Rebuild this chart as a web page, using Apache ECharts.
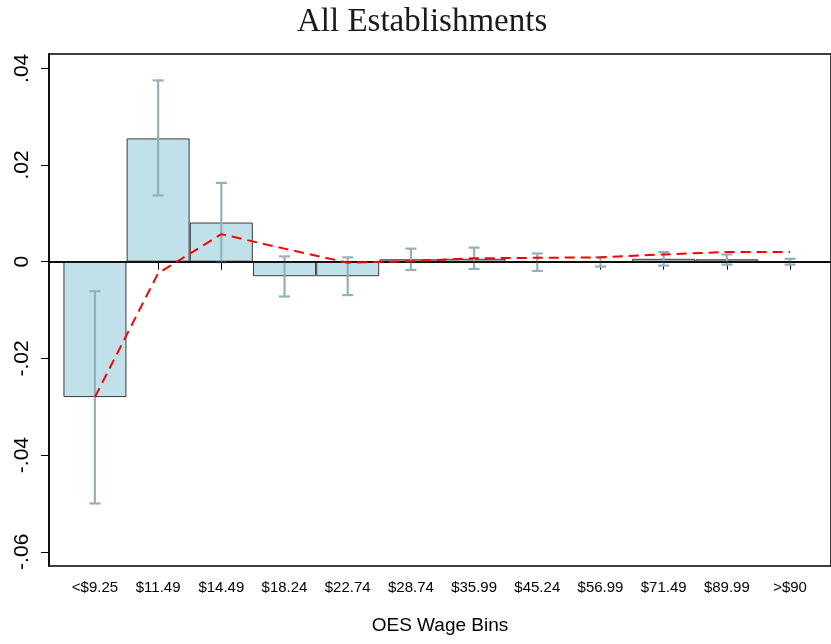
<!DOCTYPE html>
<html>
<head>
<meta charset="utf-8">
<script src="https://cdn.jsdelivr.net/npm/echarts@6/dist/echarts.min.js"></script>
<style>
  html, body { margin: 0; padding: 0; background: #fff; }
  #main { width: 831px; height: 644px; }
</style>
</head>
<body>
<div id="main"></div>
<script>
// wage bins on the x axis
var categories = ['<$9.25', '$11.49', '$14.49', '$18.24', '$22.74', '$28.74',
  '$35.99', '$45.24', '$56.99', '$71.49', '$89.99', '>$90']
// point estimates (bars)
var estimates = [-0.0280, 0.0255, 0.0081, -0.0030, -0.0030, 0.0005,
  0.0006, -0.0001, 0.0000, 0.0006, 0.0005, 0.0000]
// confidence interval bounds
var ciLow = [-0.0500, 0.0137, -0.0001, -0.0072, -0.0069, -0.0017,
  -0.0015, -0.0019, -0.0010, -0.0008, -0.0006, -0.0006]
var ciHigh = [-0.0061, 0.0375, 0.0163, 0.0011, 0.0009, 0.0027,
  0.0029, 0.0017, 0.0009, 0.0020, 0.0015, 0.0006]
// red dashed line
var predicted = [-0.0280, -0.0024, 0.0057, 0.0027, -0.0002, 0.0001,
  0.0007, 0.0008, 0.0009, 0.0015, 0.0020, 0.0020]
var yTicks = [-0.06, -0.04, -0.02, 0, 0.02, 0.04]

var positions = categories.map(function (c, i) { return i + 1 })

var chart = echarts.init(document.getElementById('main'))

function fmtY (v) {
  if (Math.abs(v) < 1e-9) return '0'
  return v.toFixed(2).replace('0.', '.')
}

var option = {
  animation: false,
  title: {
    text: 'All Establishments',
    left: 292,
    top: 1,
    textStyle: {
      fontFamily: 'Liberation Serif',
      fontWeight: 'normal',
      fontSize: 33,
      color: '#1a1a1a'
    }
  },
  grid: {
    left: 49,
    right: -1,
    top: 54,
    bottom: 78,
    show: true,
    borderColor: '#000',
    borderWidth: 1.5,
    backgroundColor: '#fff'
  },
  xAxis: {
    type: 'value',
    min: 0.273,
    max: 12.648,
    name: 'OES Wage Bins',
    nameLocation: 'middle',
    nameGap: 50,
    nameTextStyle: {
      fontFamily: 'Liberation Sans',
      fontSize: 19,
      color: '#000'
    },
    splitLine: { show: false },
    axisLine: { show: true, lineStyle: { color: '#000', width: 1.5 } },
    axisTick: {
      show: true,
      customValues: positions,
      length: 8,
      lineStyle: { color: '#000', width: 1 }
    },
    axisLabel: {
      customValues: positions,
      margin: 14,
      fontFamily: 'Liberation Sans',
      fontSize: 15,
      color: '#000',
      formatter: function (v) { return categories[Math.round(v) - 1] }
    }
  },
  yAxis: {
    type: 'value',
    min: -0.06294,
    max: 0.04296,
    splitLine: { show: false },
    axisLine: { show: true, lineStyle: { color: '#000', width: 1.5 } },
    axisTick: {
      show: true,
      customValues: yTicks,
      length: 8,
      lineStyle: { color: '#000', width: 1 }
    },
    axisLabel: {
      customValues: yTicks,
      rotate: 90,
      margin: 16,
      fontFamily: 'Liberation Sans',
      fontSize: 21,
      color: '#000',
      formatter: fmtY
    }
  },
  series: [
    {
      name: 'estimate',
      type: 'bar',
      barWidth: 63,
      data: positions.map(function (x, i) { return [x, estimates[i]] }),
      itemStyle: {
        color: '#c0e0ea',
        borderColor: '#3a3a3a',
        borderWidth: 1
      },
      z: 2
    },
    {
      name: 'ci',
      type: 'custom',
      data: positions.map(function (x, i) { return [x, ciLow[i], ciHigh[i]] }),
      renderItem: function (params, api) {
        var lo = api.coord([api.value(0), api.value(1)])
        var hi = api.coord([api.value(0), api.value(2)])
        var cap = 5.5
        var style = { stroke: '#93b1bb', lineWidth: 2.2 }
        return {
          type: 'group',
          children: [
            { type: 'line', shape: { x1: lo[0], y1: lo[1], x2: hi[0], y2: hi[1] }, style: style },
            { type: 'line', shape: { x1: lo[0] - cap, y1: lo[1], x2: lo[0] + cap, y2: lo[1] }, style: style },
            { type: 'line', shape: { x1: hi[0] - cap, y1: hi[1], x2: hi[0] + cap, y2: hi[1] }, style: style }
          ]
        }
      },
      z: 4
    },
    {
      name: 'predicted',
      type: 'line',
      data: positions.map(function (x, i) { return [x, predicted[i]] }),
      symbol: 'none',
      lineStyle: { color: '#ff0000', width: 2, type: [10, 6] },
      markLine: {
        silent: true,
        symbol: 'none',
        label: { show: false },
        lineStyle: { color: '#000', width: 1.5, type: 'solid' },
        data: [{ yAxis: 0 }]
      },
      z: 5
    }
  ]
}

chart.setOption(option)
</script>
</body>
</html>
